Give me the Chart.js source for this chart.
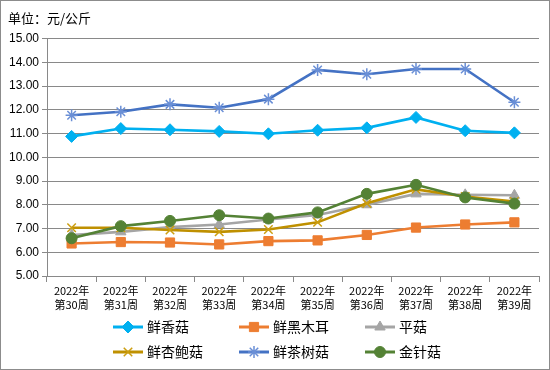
<!DOCTYPE html>
<html>
<head>
<meta charset="utf-8">
<script src="https://cdn.jsdelivr.net/npm/chart.js@4"></script>
<style>
  html, body { margin:0; padding:0; background:#fff; }
  #wrap { width:550px; height:370px; }
</style>
</head>
<body>
<div id="wrap"><canvas id="chart" width="550" height="370"></canvas></div>
<script>
const weeks = ["第30周","第31周","第32周","第33周","第34周","第35周","第36周","第37周","第38周","第39周"];
const labels = weeks.map(w => ["2022年", w]);

const xiangGu   = [10.88, 11.21, 11.16, 11.09, 10.99, 11.14, 11.24, 11.68, 11.12, 11.03];
const heiMuEr   = [6.37, 6.43, 6.41, 6.33, 6.47, 6.50, 6.73, 7.04, 7.17, 7.26];
const pingGu    = [6.72, 6.86, 7.06, 7.17, 7.38, 7.57, 8.00, 8.46, 8.42, 8.40];
const xingBaoGu = [7.03, 7.03, 6.94, 6.86, 6.96, 7.26, 8.06, 8.65, 8.35, 8.14];
const chaShuGu  = [11.77, 11.92, 12.23, 12.09, 12.45, 13.68, 13.50, 13.72, 13.72, 12.32];
const jinZhenGu = [6.59, 7.10, 7.32, 7.56, 7.42, 7.68, 8.46, 8.84, 8.31, 8.05];

const yTicks = [5, 6, 7, 8, 9, 10, 11, 12, 13, 14, 15];

const gridGray = "#898989";
const cjk = "'Noto Sans CJK SC', sans-serif";

function series(label, data, color, style, radius, pointColor, order) {
    return {
        label: label,
        data: data,
        borderColor: color,
        backgroundColor: pointColor || color,
        pointBackgroundColor: pointColor || color,
        pointBorderColor: pointColor || color,
        pointStyle: style,
        pointRadius: radius,
        pointHoverRadius: radius,
        pointBorderWidth: (style === "crossRot" || style === "star") ? 1.5 : 1,
        borderWidth: 2.6,
        tension: 0,
        fill: false,
        order: order
    };
}

const datasets = [
    series("鲜香菇", xiangGu, "#00B0F0", "rectRot", 6, null, 6),
    series("鲜黑木耳", heiMuEr, "#ED7D31", "rect", 6.5, null, 5),
    series("平菇", pingGu, "#A5A5A5", "triangle", 6, null, 4),
    series("鲜杏鲍菇", xingBaoGu, "#BF9000", "crossRot", 6, "#CC9E10", 3),
    series("鲜茶树菇", chaShuGu, "#4472C4", "star", 6, "#6A8FD6", 2),
    series("金针菇", jinZhenGu, "#548235", "circle", 5.5, null, 1)
];

// legend drawn as excel style: line with marker in the middle, 3 columns
const legendPlugin = {
    id: "excelLegend",
    afterDraw(chart) {
        const c = chart.ctx;
        const startX = 113, colW = 126, rowY = [327, 352], lineLen = 30;
        c.save();
        chart.data.datasets.forEach((ds, i) => {
            const col = i % 3, row = Math.floor(i / 3);
            const x = startX + col * colW, y = rowY[row];
            c.strokeStyle = ds.borderColor;
            c.lineWidth = 3;
            c.beginPath();
            c.moveTo(x, y);
            c.lineTo(x + lineLen, y);
            c.stroke();
            c.fillStyle = ds.pointBackgroundColor;
            c.strokeStyle = ds.pointBorderColor;
            c.lineWidth = ds.pointBorderWidth;
            Chart.helpers.drawPoint(c, {
                pointStyle: ds.pointStyle,
                radius: ds.pointRadius,
                rotation: 0,
                borderWidth: ds.pointBorderWidth
            }, x + lineLen / 2, y);
            c.fillStyle = "#000";
            c.font = "14px " + cjk;
            c.textBaseline = "middle";
            c.textAlign = "left";
            c.fillText(ds.label, x + lineLen + 4, y);
        });
        // outer frame
        c.strokeStyle = "#8c8c8c";
        c.lineWidth = 1;
        c.strokeRect(0.5, 0.5, chart.width - 1, chart.height - 1);
        c.restore();
    }
};

const ctx = document.getElementById("chart");

const chart = new Chart(ctx, {
    type: "line",
    data: {
        labels: labels,
        datasets: datasets
    },
    options: {
        responsive: false,
        animation: false,
        events: [],
        layout: {
            padding: { left: 8, right: 11, top: 0, bottom: 54 }
        },
        plugins: {
            legend: { display: false },
            tooltip: { enabled: false },
            title: {
                display: true,
                text: "单位：元/公斤",
                align: "start",
                color: "#000",
                font: { family: cjk, size: 13, weight: "normal" },
                padding: { top: 10, bottom: 13 }
            }
        },
        scales: {
            x: {
                offset: true,
                grid: {
                    offset: true,
                    drawOnChartArea: false,
                    drawTicks: true,
                    tickLength: 6,
                    color: gridGray
                },
                border: { color: gridGray, width: 1 },
                ticks: {
                    color: "#000",
                    font: { family: cjk, size: 11, lineHeight: 1.25 },
                    padding: 2,
                    maxRotation: 0,
                    autoSkip: false
                },
                afterFit(scale) { scale.height = 40; }
            },
            y: {
                min: yTicks[0],
                max: yTicks[yTicks.length - 1],
                afterBuildTicks(scale) {
                    scale.ticks = yTicks.map(v => ({ value: v }));
                },
                grid: {
                    color: gridGray,
                    tickLength: 5,
                    drawTicks: true
                },
                border: { color: gridGray, width: 1 },
                ticks: {
                    color: "#000",
                    font: { family: "'Liberation Sans', sans-serif", size: 12 },
                    padding: 3,
                    callback: v => v.toFixed(2)
                },
                afterFit(scale) { scale.width = 39; }
            }
        }
    },
    plugins: [legendPlugin]
});
</script>
</body>
</html>
